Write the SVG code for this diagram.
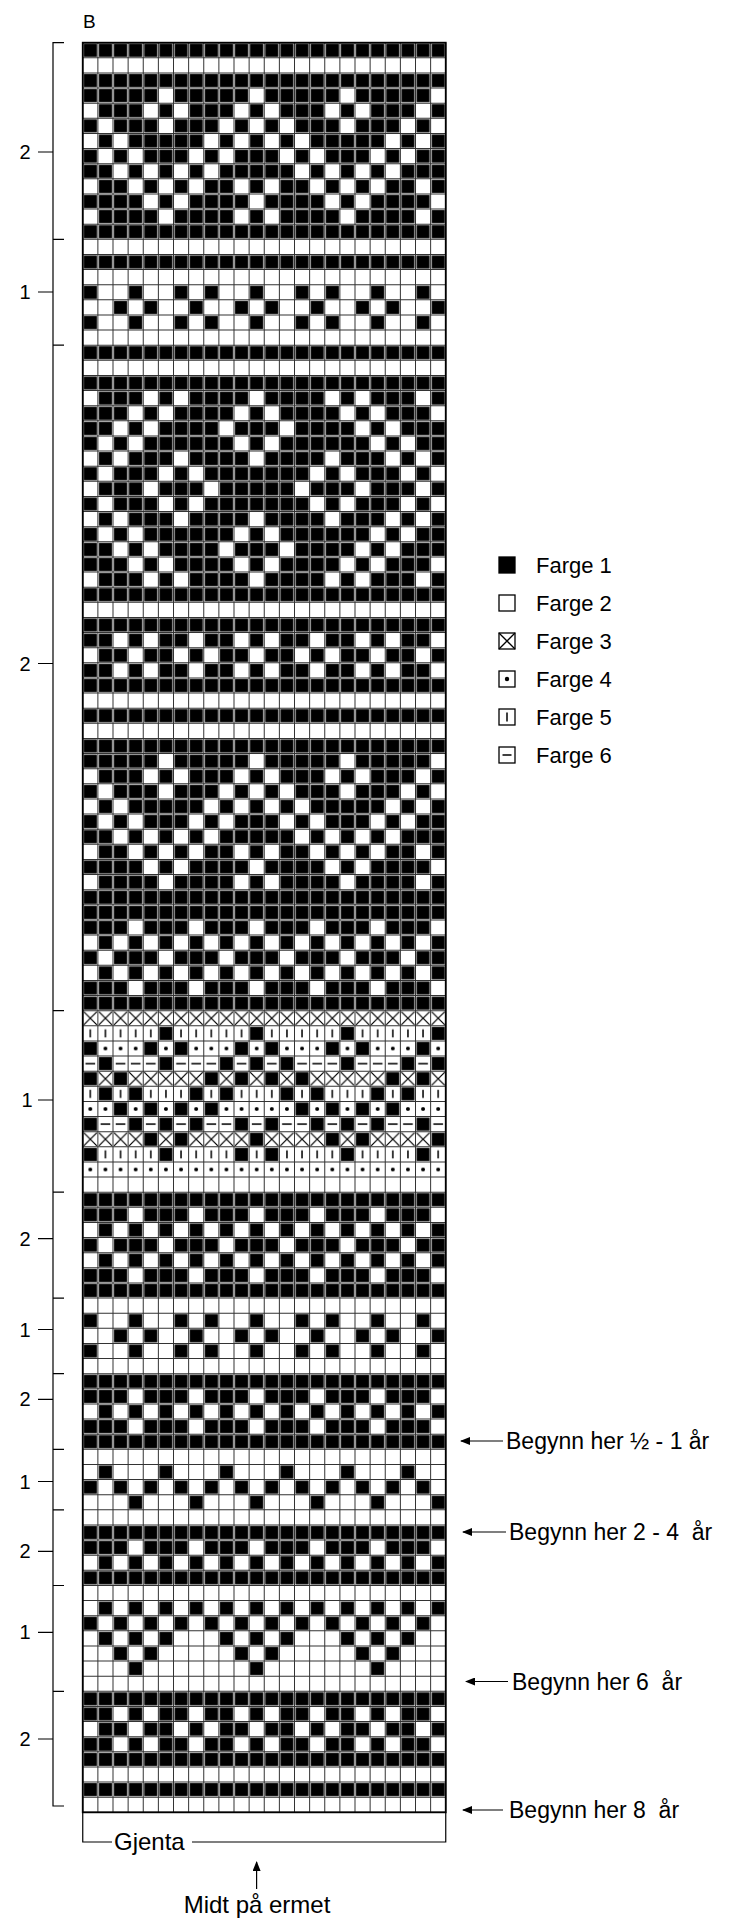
<svg xmlns="http://www.w3.org/2000/svg" width="732" height="1923" viewBox="0 0 732 1923">
<style>
text{font-family:"Liberation Sans",Arial,sans-serif;fill:#000}
.lab{font-size:20px;text-anchor:middle}
.leg{font-size:22px}
.arr{font-size:23px;white-space:pre}
.ln{stroke:#000;stroke-width:1.2;fill:none}
.sym{fill:#fff;stroke:#000;stroke-width:1.3}
</style>
<defs>
<pattern id="pb" patternUnits="userSpaceOnUse" width="1" height="1"><rect x="0.07" y="0.07" width="0.86" height="0.86" fill="#000"/></pattern>
<pattern id="px" patternUnits="userSpaceOnUse" width="1" height="1"><path d="M0.07 0.07L0.93 0.93M0.93 0.07L0.07 0.93" stroke="#000" stroke-width="0.085" fill="none"/></pattern>
<pattern id="pi" patternUnits="userSpaceOnUse" width="1" height="1"><path d="M0.5 0.24V0.76" stroke="#000" stroke-width="0.1" fill="none"/></pattern>
<pattern id="pd" patternUnits="userSpaceOnUse" width="1" height="1"><circle cx="0.5" cy="0.5" r="0.13" fill="#000"/></pattern>
<pattern id="ph" patternUnits="userSpaceOnUse" width="1" height="1"><path d="M0.18 0.5H0.82" stroke="#000" stroke-width="0.1" fill="none"/></pattern>
<marker id="ah" viewBox="0 0 10 8" refX="9" refY="4" markerWidth="10" markerHeight="8" markerUnits="userSpaceOnUse" orient="auto"><path d="M0 0L10 4L0 8z" fill="#000"/></marker>
<path id="t3" d="M0 0h5v1h-5zM6 0h5v1h-5zM12 0h5v1h-5zM18 0h5v1h-5z"/>
<path id="t4" d="M1 0h3v1h-3zM5 0h1v1h-1zM7 0h3v1h-3zM11 0h1v1h-1zM13 0h3v1h-3zM17 0h1v1h-1zM19 0h3v1h-3zM23 0h1v1h-1z"/>
<path id="t5" d="M0 0h1v1h-1zM2 0h3v1h-3zM6 0h3v1h-3zM10 0h1v1h-1zM12 0h1v1h-1zM14 0h3v1h-3zM18 0h3v1h-3zM22 0h1v1h-1z"/>
<path id="t6" d="M1 0h1v1h-1zM3 0h5v1h-5zM9 0h1v1h-1zM11 0h1v1h-1zM13 0h1v1h-1zM15 0h5v1h-5zM21 0h1v1h-1zM23 0h1v1h-1z"/>
<path id="t7" d="M0 0h1v1h-1zM2 0h1v1h-1zM4 0h3v1h-3zM8 0h1v1h-1zM10 0h3v1h-3zM14 0h1v1h-1zM16 0h3v1h-3zM20 0h1v1h-1zM22 0h2v1h-2z"/>
<path id="t8" d="M0 0h2v1h-2zM3 0h1v1h-1zM5 0h1v1h-1zM7 0h1v1h-1zM9 0h5v1h-5zM15 0h1v1h-1zM17 0h1v1h-1zM19 0h1v1h-1zM21 0h3v1h-3z"/>
<path id="t9" d="M1 0h2v1h-2zM4 0h1v1h-1zM6 0h1v1h-1zM8 0h2v1h-2zM11 0h1v1h-1zM13 0h2v1h-2zM16 0h1v1h-1zM18 0h1v1h-1zM20 0h2v1h-2zM23 0h1v1h-1z"/>
<path id="t10" d="M0 0h4v1h-4zM5 0h1v1h-1zM7 0h4v1h-4zM12 0h4v1h-4zM17 0h1v1h-1zM19 0h4v1h-4z"/>
<path id="t11" d="M1 0h4v1h-4zM6 0h4v1h-4zM11 0h1v1h-1zM13 0h4v1h-4zM18 0h4v1h-4zM23 0h1v1h-1z"/>
<path id="t16" d="M0 0h1v1h-1zM3 0h1v1h-1zM6 0h1v1h-1zM8 0h1v1h-1zM11 0h1v1h-1zM14 0h1v1h-1zM16 0h1v1h-1zM19 0h1v1h-1zM22 0h1v1h-1z"/>
<path id="t17" d="M2 0h1v1h-1zM4 0h1v1h-1zM7 0h1v1h-1zM10 0h1v1h-1zM12 0h1v1h-1zM15 0h1v1h-1zM18 0h1v1h-1zM20 0h1v1h-1zM23 0h1v1h-1z"/>
<path id="t23" d="M1 0h3v1h-3zM5 0h1v1h-1zM7 0h4v1h-4zM12 0h4v1h-4zM17 0h1v1h-1zM19 0h3v1h-3zM23 0h1v1h-1z"/>
<path id="t24" d="M0 0h3v1h-3zM4 0h1v1h-1zM6 0h4v1h-4zM11 0h1v1h-1zM13 0h4v1h-4zM18 0h1v1h-1zM20 0h3v1h-3z"/>
<path id="t25" d="M0 0h2v1h-2zM3 0h1v1h-1zM5 0h4v1h-4zM10 0h3v1h-3zM14 0h4v1h-4zM19 0h1v1h-1zM21 0h3v1h-3z"/>
<path id="t26" d="M0 0h1v1h-1zM2 0h1v1h-1zM4 0h6v1h-6zM11 0h1v1h-1zM13 0h6v1h-6zM20 0h1v1h-1zM22 0h2v1h-2z"/>
<path id="t27" d="M1 0h1v1h-1zM3 0h3v1h-3zM7 0h4v1h-4zM12 0h4v1h-4zM17 0h3v1h-3zM21 0h1v1h-1zM23 0h1v1h-1z"/>
<path id="t28" d="M0 0h1v1h-1zM2 0h3v1h-3zM6 0h1v1h-1zM8 0h7v1h-7zM16 0h1v1h-1zM18 0h3v1h-3zM22 0h1v1h-1z"/>
<path id="t29" d="M1 0h3v1h-3zM5 0h3v1h-3zM9 0h5v1h-5zM15 0h3v1h-3zM19 0h3v1h-3zM23 0h1v1h-1z"/>
<path id="t39" d="M0 0h2v1h-2zM3 0h1v1h-1zM5 0h2v1h-2zM8 0h2v1h-2zM11 0h1v1h-1zM13 0h2v1h-2zM16 0h2v1h-2zM19 0h1v1h-1zM21 0h2v1h-2z"/>
<path id="t40" d="M1 0h2v1h-2zM4 0h2v1h-2zM7 0h1v1h-1zM9 0h2v1h-2zM12 0h2v1h-2zM15 0h1v1h-1zM17 0h2v1h-2zM20 0h2v1h-2zM23 0h1v1h-1z"/>
<path id="t58" d="M0 0h3v1h-3zM4 0h3v1h-3zM8 0h3v1h-3zM12 0h3v1h-3zM16 0h3v1h-3zM20 0h3v1h-3z"/>
<path id="t59" d="M1 0h1v1h-1zM3 0h1v1h-1zM5 0h1v1h-1zM7 0h1v1h-1zM9 0h1v1h-1zM11 0h1v1h-1zM13 0h1v1h-1zM15 0h1v1h-1zM17 0h1v1h-1zM19 0h1v1h-1zM21 0h1v1h-1zM23 0h1v1h-1z"/>
<path id="t60" d="M0 0h1v1h-1zM2 0h3v1h-3zM6 0h3v1h-3zM10 0h3v1h-3zM14 0h3v1h-3zM18 0h3v1h-3zM22 0h2v1h-2z"/>
<path id="t94" d="M1 0h1v1h-1zM5 0h1v1h-1zM9 0h1v1h-1zM13 0h1v1h-1zM17 0h1v1h-1zM21 0h1v1h-1z"/>
<path id="t95" d="M0 0h1v1h-1zM2 0h1v1h-1zM4 0h1v1h-1zM6 0h1v1h-1zM8 0h1v1h-1zM10 0h1v1h-1zM12 0h1v1h-1zM14 0h1v1h-1zM16 0h1v1h-1zM18 0h1v1h-1zM20 0h1v1h-1zM22 0h1v1h-1z"/>
<path id="t96" d="M3 0h1v1h-1zM7 0h1v1h-1zM11 0h1v1h-1zM15 0h1v1h-1zM19 0h1v1h-1zM23 0h1v1h-1z"/>
<path id="t105" d="M1 0h1v1h-1zM3 0h1v1h-1zM5 0h1v1h-1zM9 0h1v1h-1zM11 0h1v1h-1zM13 0h1v1h-1zM17 0h1v1h-1zM19 0h1v1h-1zM21 0h1v1h-1z"/>
<path id="t106" d="M2 0h1v1h-1zM4 0h1v1h-1zM10 0h1v1h-1zM12 0h1v1h-1zM18 0h1v1h-1zM20 0h1v1h-1z"/>
<path id="t107" d="M3 0h1v1h-1zM11 0h1v1h-1zM19 0h1v1h-1z"/>
</defs>
<rect width="732" height="1923" fill="#fff"/>
<g id="chart" transform="translate(82.75 42.7) scale(15.125)">
<path d="M12 -0.033V117.1" stroke="#333" stroke-width="24" stroke-dasharray="0.066 0.934" fill="none"/>
<path d="M-0.033 58.5H24.1" stroke="#333" stroke-width="117" stroke-dasharray="0.066 0.934" fill="none"/>
<path fill="url(#pb)" d="M0 0h24v1h-24zM0 2h24v1h-24zM0 12h24v1h-24zM0 14h24v1h-24zM0 20h24v1h-24zM0 22h24v1h-24zM0 36h24v1h-24zM0 38h24v1h-24zM0 42h24v1h-24zM0 44h24v1h-24zM0 46h24v1h-24zM0 56h24v2h-24zM0 63h24v1h-24zM0 76h24v1h-24zM0 82h24v1h-24zM0 88h24v1h-24zM0 92h24v1h-24zM0 98h24v1h-24zM0 101h24v1h-24zM0 109h24v1h-24zM0 113h24v1h-24zM0 115h24v1h-24z"/>
<g fill="url(#pb)">
<use href="#t3" y="3"/><use href="#t4" y="4"/><use href="#t5" y="5"/><use href="#t6" y="6"/><use href="#t7" y="7"/><use href="#t8" y="8"/><use href="#t9" y="9"/><use href="#t10" y="10"/><use href="#t11" y="11"/>
<use href="#t16" y="16"/><use href="#t17" y="17"/><use href="#t16" y="18"/>
<use href="#t23" y="23"/><use href="#t24" y="24"/><use href="#t25" y="25"/><use href="#t26" y="26"/><use href="#t27" y="27"/><use href="#t28" y="28"/><use href="#t29" y="29"/><use href="#t28" y="30"/><use href="#t27" y="31"/><use href="#t26" y="32"/><use href="#t25" y="33"/><use href="#t24" y="34"/><use href="#t23" y="35"/>
<use href="#t39" y="39"/><use href="#t40" y="40"/><use href="#t39" y="41"/>
<use href="#t3" y="47"/><use href="#t4" y="48"/><use href="#t5" y="49"/><use href="#t6" y="50"/><use href="#t7" y="51"/><use href="#t8" y="52"/><use href="#t9" y="53"/><use href="#t10" y="54"/><use href="#t11" y="55"/>
<use href="#t58" y="58"/><use href="#t59" y="59"/><use href="#t60" y="60"/><use href="#t59" y="61"/><use href="#t58" y="62"/>
<use href="#t58" y="77"/><use href="#t59" y="78"/><use href="#t60" y="79"/><use href="#t59" y="80"/><use href="#t58" y="81"/>
<use href="#t16" y="84"/><use href="#t17" y="85"/><use href="#t16" y="86"/>
<use href="#t58" y="89"/><use href="#t59" y="90"/><use href="#t58" y="91"/>
<use href="#t94" y="94"/><use href="#t95" y="95"/><use href="#t96" y="96"/>
<use href="#t58" y="99"/><use href="#t59" y="100"/>
<use href="#t59" y="103"/><use href="#t95" y="104"/><use href="#t105" y="105"/><use href="#t106" y="106"/><use href="#t107" y="107"/>
<use href="#t39" y="110"/><use href="#t40" y="111"/><use href="#t39" y="112"/>
</g>
<path fill="url(#pb)" d="M5 65h1v1h-1zM11 65h1v1h-1zM17 65h1v1h-1zM23 65h1v1h-1zM0 66h1v1h-1zM4 66h1v1h-1zM6 66h1v1h-1zM10 66h1v1h-1zM12 66h1v1h-1zM16 66h1v1h-1zM18 66h1v1h-1zM22 66h1v1h-1zM1 67h1v1h-1zM5 67h1v1h-1zM9 67h1v1h-1zM11 67h1v1h-1zM13 67h1v1h-1zM17 67h1v1h-1zM21 67h1v1h-1zM23 67h1v1h-1zM0 68h1v1h-1zM2 68h1v1h-1zM8 68h1v1h-1zM10 68h1v1h-1zM12 68h1v1h-1zM14 68h1v1h-1zM20 68h1v1h-1zM22 68h1v1h-1zM1 69h1v1h-1zM3 69h1v1h-1zM7 69h1v1h-1zM9 69h1v1h-1zM13 69h1v1h-1zM15 69h1v1h-1zM19 69h1v1h-1zM21 69h1v1h-1zM2 70h1v1h-1zM4 70h1v1h-1zM6 70h1v1h-1zM8 70h1v1h-1zM14 70h1v1h-1zM16 70h1v1h-1zM18 70h1v1h-1zM20 70h1v1h-1zM0 71h1v1h-1zM3 71h1v1h-1zM5 71h1v1h-1zM7 71h1v1h-1zM10 71h1v1h-1zM12 71h1v1h-1zM15 71h1v1h-1zM17 71h1v1h-1zM19 71h1v1h-1zM22 71h1v1h-1zM4 72h1v1h-1zM6 72h1v1h-1zM11 72h1v1h-1zM16 72h1v1h-1zM18 72h1v1h-1zM23 72h1v1h-1zM0 73h1v1h-1zM5 73h1v1h-1zM10 73h1v1h-1zM12 73h1v1h-1zM17 73h1v1h-1zM22 73h1v1h-1z"/>
<rect x="0" y="64" width="24" height="1" fill="url(#px)"/>
<use href="#t3" y="65" fill="url(#pi)"/>
<use href="#t4" y="66" fill="url(#pd)"/>
<use href="#t5" y="67" fill="url(#ph)"/>
<use href="#t6" y="68" fill="url(#px)"/>
<use href="#t7" y="69" fill="url(#pi)"/>
<use href="#t8" y="70" fill="url(#pd)"/>
<use href="#t9" y="71" fill="url(#ph)"/>
<use href="#t10" y="72" fill="url(#px)"/>
<use href="#t11" y="73" fill="url(#pi)"/>
<rect x="0" y="74" width="24" height="1" fill="url(#pd)"/>
<rect x="0" y="0" width="24" height="117" fill="none" stroke="#000" stroke-width="0.12"/>
</g>
<g id="sections">
<path class="ln" d="M64 42.7H53V1806H64M53 239.3H64M53 345.2H64M53 1010.7H64M53 1192.2H64M53 1298.1H64M53 1373.7H64M53 1449.3H64M53 1509.8H64M53 1585.5H64M53 1691.3H64"/>
<path class="ln" d="M38 152H53M38 292H53M38 663.5H53M38 1100H53M38 1238.7H53M38 1329.5H53M38 1399.3H53M38 1481.5H53M38 1551.4H53M38 1632.4H53M38 1739H53"/>
<text class="lab" x="25" y="159">2</text>
<text class="lab" x="25" y="299">1</text>
<text class="lab" x="25" y="670.5">2</text>
<text class="lab" x="27" y="1107">1</text>
<text class="lab" x="25" y="1245.7">2</text>
<text class="lab" x="25" y="1336.5">1</text>
<text class="lab" x="25" y="1406.3">2</text>
<text class="lab" x="25" y="1488.5">1</text>
<text class="lab" x="25" y="1558.4">2</text>
<text class="lab" x="25" y="1639.4">1</text>
<text class="lab" x="25" y="1746">2</text>
<text x="83" y="28" style="font-size:19px">B</text>
</g>
<g id="legend">
<rect x="499" y="557" width="16" height="16" fill="#000" stroke="#000" stroke-width="1.3"/>
<text class="leg" x="536" y="573">Farge 1</text>
<rect class="sym" x="499" y="595" width="16" height="16"/>
<text class="leg" x="536" y="611">Farge 2</text>
<rect class="sym" x="499" y="633" width="16" height="16"/>
<path d="M499 633L515 649M515 633L499 649" stroke="#000" stroke-width="1.3"/>
<text class="leg" x="536" y="649">Farge 3</text>
<rect class="sym" x="499" y="671" width="16" height="16"/>
<circle cx="507" cy="679" r="2.2" fill="#000"/>
<text class="leg" x="536" y="687">Farge 4</text>
<rect class="sym" x="499" y="709" width="16" height="16"/>
<path d="M507 712.5V721.5" stroke="#000" stroke-width="1.5"/>
<text class="leg" x="536" y="725">Farge 5</text>
<rect class="sym" x="499" y="747" width="16" height="16"/>
<path d="M502.5 755H511.5" stroke="#000" stroke-width="1.5"/>
<text class="leg" x="536" y="763">Farge 6</text>
</g>
<g id="connectors">
<path class="ln" d="M503 1441H461" marker-end="url(#ah)"/>
<path class="ln" d="M506 1532H463" marker-end="url(#ah)"/>
<path class="ln" d="M508 1681.5H466" marker-end="url(#ah)"/>
<path class="ln" d="M503 1810H463" marker-end="url(#ah)"/>
<path class="ln" d="M256.6 1889V1862" marker-end="url(#ah)"/>
<path class="ln" d="M82.75 1812.3V1842H112M192 1842H445.75V1812.3"/>
</g>
<g id="notes">
<text class="arr" x="506" y="1449">Begynn her ½ - 1 år</text>
<text class="arr" x="509" y="1540">Begynn her 2 - 4  år</text>
<text class="arr" x="512" y="1689.5">Begynn her 6  år</text>
<text class="arr" x="509" y="1818">Begynn her 8  år</text>
<text x="114" y="1850" style="font-size:24px">Gjenta</text>
<text x="257" y="1913" style="font-size:24px;text-anchor:middle">Midt på ermet</text>
</g>
</svg>
